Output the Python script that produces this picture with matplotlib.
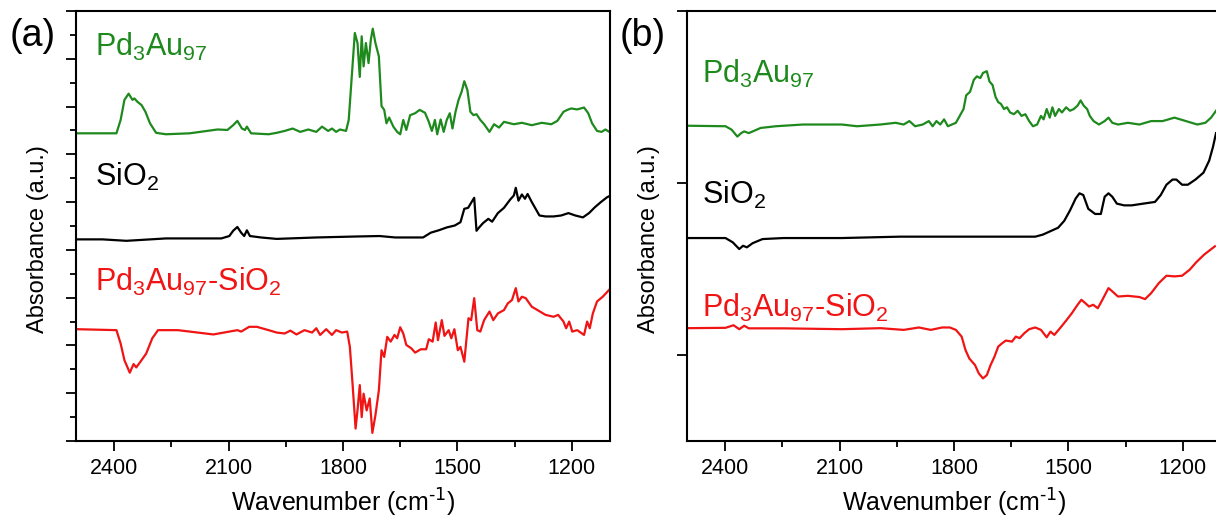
import numpy as np
import matplotlib
matplotlib.use("Agg")
import matplotlib.pyplot as plt
from matplotlib.ticker import MultipleLocator, FixedLocator, NullFormatter

plt.rcParams["font.family"] = ["Liberation Sans", "DejaVu Sans"]
plt.rcParams["mathtext.default"] = "regular"

# ---- panel (a) data (wavenumber, offset absorbance) ----
a_green_x = [2497, 2394, 2383, 2373, 2362, 2352, 2347, 2339, 2328, 2318, 2306, 2290, 2264, 2202,
             2129, 2103, 2088, 2077, 2065, 2057, 2052, 2041, 1995, 1974, 1953, 1932, 1912, 1891,
             1870, 1855, 1839, 1829, 1818, 1808, 1792, 1785, 1777, 1769, 1762, 1756, 1751, 1746,
             1740, 1733, 1727, 1722, 1715, 1706, 1699, 1692, 1686, 1679, 1668, 1658, 1650, 1642,
             1634, 1624, 1611, 1599, 1585, 1575, 1567, 1559, 1553, 1544, 1536, 1528, 1520, 1513,
             1505, 1497, 1489, 1482, 1474, 1466, 1458, 1450, 1440, 1430, 1416, 1404, 1391, 1378,
             1352, 1331, 1305, 1279, 1254, 1238, 1222, 1212, 1202, 1186, 1168, 1157, 1147, 1134,
             1122, 1112, 1098]
a_green = [6.44, 6.44, 6.72, 7.14, 7.27, 7.14, 7.17, 7.10, 7.03, 6.89, 6.65, 6.45, 6.42, 6.44,
           6.52, 6.51, 6.61, 6.70, 6.54, 6.51, 6.58, 6.44, 6.42, 6.45, 6.49, 6.54, 6.47, 6.52,
           6.47, 6.58, 6.49, 6.54, 6.47, 6.52, 6.49, 6.72, 7.63, 8.54, 8.33, 7.62, 8.47, 7.84,
           8.33, 7.91, 8.40, 8.63, 8.33, 8.05, 7.01, 6.93, 6.65, 6.77, 6.58, 6.47, 6.42, 6.72,
           6.51, 6.82, 6.86, 6.93, 6.87, 6.68, 6.49, 6.72, 6.42, 6.73, 6.47, 6.72, 6.86, 6.54,
           6.89, 7.14, 7.31, 7.53, 7.35, 6.89, 6.82, 6.84, 6.72, 6.63, 6.47, 6.63, 6.56, 6.68,
           6.63, 6.66, 6.61, 6.66, 6.63, 6.70, 6.89, 6.93, 6.96, 6.94, 6.98, 6.86, 6.65, 6.49,
           6.47, 6.52, 6.45]

a_black_x = [2497, 2430, 2368, 2326, 2264, 2181, 2119, 2098, 2088, 2077, 2067, 2059, 2052, 2044,
             2015, 1974, 1870, 1767, 1704, 1663, 1590, 1570, 1549, 1528, 1507, 1492, 1482, 1472,
             1463, 1456, 1450, 1443, 1433, 1419, 1409, 1394, 1378, 1362, 1352, 1347, 1340, 1331,
             1323, 1316, 1305, 1295, 1285, 1269, 1248, 1228, 1209, 1191, 1171, 1155, 1140, 1124,
             1108, 1098]
a_black = [4.22, 4.22, 4.19, 4.21, 4.24, 4.24, 4.24, 4.29, 4.40, 4.48, 4.36, 4.29, 4.41, 4.29,
           4.26, 4.23, 4.26, 4.28, 4.29, 4.26, 4.26, 4.36, 4.41, 4.47, 4.51, 4.58, 4.86, 4.88,
           5.00, 5.09, 4.40, 4.47, 4.56, 4.65, 4.59, 4.77, 4.88, 5.05, 5.14, 5.30, 5.03, 5.16,
           5.07, 5.17, 5.00, 4.86, 4.72, 4.70, 4.70, 4.72, 4.77, 4.72, 4.68, 4.77, 4.89, 5.00,
           5.10, 5.14]

a_red_x = [2497, 2394, 2383, 2373, 2359, 2349, 2342, 2331, 2316, 2300, 2285, 2233, 2181, 2140,
           2098, 2077, 2067, 2046, 2026, 1995, 1974, 1953, 1938, 1922, 1901, 1881, 1870, 1860,
           1844, 1829, 1818, 1803, 1789, 1782, 1775, 1767, 1762, 1756, 1751, 1746, 1738, 1730,
           1723, 1715, 1706, 1699, 1692, 1684, 1675, 1665, 1658, 1650, 1642, 1634, 1621, 1611,
           1596, 1582, 1575, 1565, 1557, 1551, 1541, 1534, 1523, 1516, 1508, 1499, 1492, 1482,
           1471, 1464, 1456, 1448, 1440, 1430, 1416, 1406, 1394, 1378, 1368, 1357, 1347, 1340,
           1331, 1321, 1305, 1290, 1269, 1248, 1236, 1222, 1215, 1207, 1199, 1186, 1168, 1160,
           1153, 1145, 1134, 1119, 1098]
a_red = [2.34, 2.32, 2.04, 1.69, 1.43, 1.61, 1.54, 1.66, 1.83, 2.15, 2.32, 2.32, 2.27, 2.23,
         2.29, 2.32, 2.29, 2.39, 2.39, 2.32, 2.27, 2.25, 2.31, 2.23, 2.32, 2.27, 2.36, 2.22,
         2.34, 2.22, 2.32, 2.27, 2.29, 1.97, 1.20, 0.26, 0.64, 1.17, 0.50, 0.99, 0.64, 0.89,
         0.17, 0.54, 1.06, 1.90, 1.76, 2.18, 2.08, 2.22, 2.15, 2.38, 2.25, 2.01, 1.94, 1.85,
         1.92, 1.92, 2.13, 2.08, 2.48, 2.11, 2.53, 2.20, 2.32, 2.15, 2.34, 1.90, 1.97, 1.66,
         2.57, 2.53, 2.99, 2.32, 2.29, 2.53, 2.71, 2.53, 2.67, 2.74, 2.88, 2.95, 3.20, 2.92,
         3.02, 2.99, 2.81, 2.74, 2.64, 2.60, 2.64, 2.50, 2.36, 2.50, 2.29, 2.32, 2.22, 2.50,
         2.36, 2.67, 2.92, 3.02, 3.20]

# ---- panel (b) data ----
b_green_x = [2500, 2399, 2383, 2368, 2358, 2350, 2338, 2307, 2267, 2196, 2094, 2054, 1993, 1953,
             1932, 1917, 1902, 1882, 1866, 1856, 1846, 1836, 1826, 1816, 1795, 1785, 1775, 1768,
             1758, 1748, 1740, 1731, 1724, 1714, 1707, 1699, 1691, 1684, 1677, 1669, 1661, 1653,
             1643, 1633, 1623, 1613, 1603, 1593, 1582, 1572, 1565, 1557, 1549, 1542, 1535, 1525,
             1517, 1506, 1496, 1486, 1476, 1468, 1460, 1451, 1444, 1434, 1420, 1405, 1395, 1385,
             1370, 1344, 1314, 1283, 1253, 1222, 1192, 1162, 1141, 1126, 1113]
b_green = [1.333, 1.33, 1.31, 1.27, 1.29, 1.30, 1.29, 1.32, 1.33, 1.34, 1.34, 1.33, 1.34, 1.35,
           1.34, 1.36, 1.33, 1.34, 1.36, 1.33, 1.36, 1.34, 1.37, 1.33, 1.35, 1.39, 1.43, 1.51,
           1.53, 1.60, 1.62, 1.61, 1.64, 1.65, 1.59, 1.57, 1.50, 1.47, 1.46, 1.43, 1.44, 1.41,
           1.40, 1.42, 1.39, 1.40, 1.36, 1.33, 1.34, 1.39, 1.37, 1.43, 1.38, 1.44, 1.39, 1.43,
           1.41, 1.44, 1.42, 1.43, 1.45, 1.48, 1.45, 1.43, 1.39, 1.36, 1.34, 1.36, 1.38, 1.35,
           1.34, 1.35, 1.34, 1.36, 1.36, 1.38, 1.36, 1.34, 1.35, 1.38, 1.42]

b_black_x = [2500, 2399, 2380, 2363, 2353, 2343, 2328, 2302, 2247, 2094, 1942, 1790, 1689, 1587,
             1567, 1547, 1527, 1511, 1496, 1481, 1471, 1461, 1448, 1430, 1415, 1405, 1395, 1385,
             1373, 1354, 1334, 1304, 1273, 1258, 1243, 1227, 1217, 1202, 1187, 1167, 1146, 1131,
             1121, 1113]
b_black = [0.68, 0.68, 0.655, 0.616, 0.635, 0.626, 0.65, 0.674, 0.68, 0.68, 0.688, 0.688, 0.688,
           0.688, 0.70, 0.72, 0.74, 0.78, 0.84, 0.91, 0.94, 0.93, 0.85, 0.82, 0.82, 0.92, 0.94,
           0.92, 0.88, 0.87, 0.87, 0.88, 0.89, 0.93, 0.99, 1.02, 1.02, 0.99, 0.99, 1.02, 1.06,
           1.13, 1.21, 1.29]

b_red_x = [2500, 2399, 2378, 2363, 2350, 2338, 2247, 2094, 1993, 1932, 1892, 1861, 1831, 1811,
           1795, 1780, 1770, 1760, 1745, 1735, 1724, 1714, 1704, 1694, 1684, 1674, 1664, 1648,
           1638, 1628, 1616, 1603, 1587, 1572, 1557, 1547, 1537, 1522, 1506, 1491, 1476, 1466,
           1456, 1446, 1435, 1423, 1410, 1395, 1385, 1370, 1344, 1314, 1299, 1283, 1263, 1243,
           1222, 1202, 1182, 1165, 1144, 1116]
b_red = [0.156, 0.158, 0.173, 0.15, 0.17, 0.155, 0.155, 0.15, 0.156, 0.146, 0.16, 0.146, 0.16,
         0.16, 0.146, 0.107, 0.03, -0.02, -0.058, -0.107, -0.136, -0.117, -0.058, -0.01, 0.049,
         0.068, 0.084, 0.078, 0.107, 0.098, 0.126, 0.15, 0.16, 0.146, 0.103, 0.136, 0.117, 0.156,
         0.20, 0.243, 0.292, 0.321, 0.302, 0.282, 0.292, 0.272, 0.325, 0.389, 0.37, 0.34, 0.344,
         0.337, 0.325, 0.36, 0.418, 0.461, 0.457, 0.461, 0.496, 0.539, 0.584, 0.632]

labels = [r"Pd$_3$Au$_{97}$", r"SiO$_2$", r"Pd$_3$Au$_{97}$-SiO$_2$"]
colors = ["#1e8a1e", "black", "#f01414"]

fig = plt.figure(figsize=(12.16, 5.18), dpi=100)
ax_a = fig.add_axes([76 / 1216, 77 / 518, 534 / 1216, 430 / 518])
ax_b = fig.add_axes([687 / 1216, 77 / 518, 534 / 1216, 430 / 518])

ax_a.plot(a_green_x, a_green, color=colors[0], lw=1.6)
ax_a.plot(a_black_x, a_black, color=colors[1], lw=1.6)
ax_a.plot(a_red_x, a_red, color=colors[2], lw=1.6)
ax_b.plot(b_green_x, b_green, color=colors[0], lw=1.6)
ax_b.plot(b_black_x, b_black, color=colors[1], lw=1.6)
ax_b.plot(b_red_x, b_red, color=colors[2], lw=1.6)

ax_a.set_ylim(0, 9)
ax_a.yaxis.set_major_locator(MultipleLocator(1))
ax_a.yaxis.set_minor_locator(MultipleLocator(0.5))
ax_b.set_ylim(-0.5, 2)
ax_b.yaxis.set_major_locator(FixedLocator([0, 1, 2]))

for ax in (ax_a, ax_b):
    ax.set_xlim(2500, 1100)
    ax.xaxis.set_major_locator(FixedLocator([2400, 2100, 1800, 1500, 1200]))
    ax.xaxis.set_minor_locator(FixedLocator([2250, 1950, 1650, 1350]))
    ax.yaxis.set_major_formatter(NullFormatter())
    ax.tick_params(which="major", direction="out", length=7, width=1.3, labelsize=15.5, pad=5)
    ax.tick_params(which="minor", direction="out", length=4, width=1.3)
    for s in ax.spines.values():
        s.set_linewidth(1.5)
    ax.set_xlabel(r"Wavenumber (cm$^{\text{-1}}$)", fontsize=18, labelpad=6)
    ax.set_ylabel("Absorbance (a.u.)", fontsize=17)
    ax.yaxis.set_label_coords(-0.05, 0.47)

# series labels
for (y, lab, c) in zip([0.895, 0.594, 0.348], labels, colors):
    ax_a.text(0.036, y, lab, transform=ax_a.transAxes, color=c, fontsize=22, va="baseline")
for (y, lab, c) in zip([0.833, 0.551, 0.289], labels, colors):
    ax_b.text(0.028, y, lab, transform=ax_b.transAxes, color=c, fontsize=22, va="baseline")

fig.text(10 / 1216, 1 - 36 / 518, "(a)", fontsize=27, va="center")
fig.text(620 / 1216, 1 - 36 / 518, "(b)", fontsize=27, va="center")

fig.savefig("out.png", dpi=100)
